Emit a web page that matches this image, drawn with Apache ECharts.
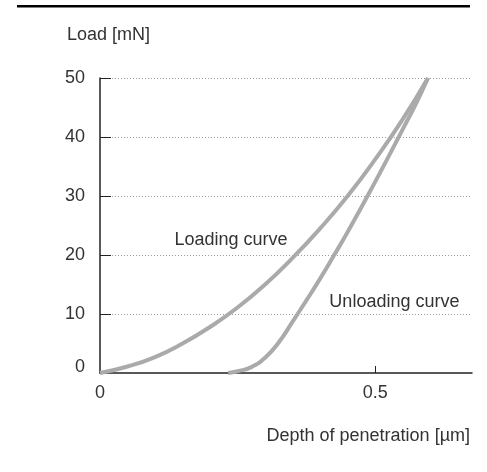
<!DOCTYPE html>
<html>
<head>
<meta charset="utf-8">
<script src="https://cdn.jsdelivr.net/npm/echarts@6/dist/echarts.min.js"></script>
<style>
html, body { margin: 0; padding: 0; background: #fff; }
#chart { width: 487px; height: 472px; }
</style>
</head>
<body>
<div id="chart"></div>
<script>
// values
var loadingDepth = [0, 0.05, 0.1, 0.15, 0.2, 0.25, 0.3, 0.35, 0.4, 0.45, 0.5, 0.55, 0.596];
var loadingLoad = [0, 1.1, 2.7, 5.0, 7.8, 11.1, 15.0, 19.5, 24.5, 30.0, 36.2, 43.0, 50];
var unloadingDepth = [0.233, 0.25, 0.275, 0.3, 0.325, 0.35, 0.375, 0.4, 0.425, 0.45, 0.475, 0.5, 0.525, 0.55, 0.575, 0.596];
var unloadingLoad = [0, 0.3, 1.0, 2.6, 5.2, 8.7, 12.3, 16.0, 19.9, 23.9, 28.1, 32.4, 36.8, 41.3, 45.8, 50];
var xTicks = [0, 0.5];
var yTicks = [0, 10, 20, 30, 40, 50];
var curveNames = ['Loading curve', 'Unloading curve'];
var curveLabelAt = [[0.238, 22.5], [0.535, 12.0]];

var font = "'Liberation Sans', Arial, Helvetica, sans-serif";
var textColor = '#333';

var pairs = function (xs, ys) {
    var out = [];
    for (var i = 0; i < xs.length; i++) {
        out.push([xs[i], ys[i]]);
    }
    return out;
};

var curve = function (name, xs, ys, at) {
    return {
        name: name,
        type: 'line',
        smooth: true,
        symbol: 'none',
        data: pairs(xs, ys),
        lineStyle: { color: '#aaaaaa', width: 4 },
        markPoint: {
            symbol: 'circle',
            symbolSize: 0,
            data: [{ coord: at }],
            label: {
                show: true,
                position: 'inside',
                formatter: name,
                color: textColor,
                fontFamily: font,
                fontSize: 18
            }
        },
        animation: false
    };
};

var chart = echarts.init(document.getElementById('chart'));
chart.setOption({
    backgroundColor: '#fff',
    animation: false,
    grid: { left: 100, top: 78, right: 15, bottom: 99 },
    xAxis: {
        type: 'value',
        min: 0,
        max: 0.676,
        interval: 0.5,
        axisLine: { lineStyle: { color: '#222', width: 1.5 } },
        axisTick: { show: true, inside: true, length: 7, customValues: [0.5], lineStyle: { color: '#222' } },
        axisLabel: { customValues: xTicks, margin: 11, color: textColor, fontFamily: font, fontSize: 18 },
        splitLine: { show: false }
    },
    yAxis: {
        type: 'value',
        min: 0,
        max: 50,
        interval: 10,
        axisLine: { show: true, lineStyle: { color: '#222', width: 1.5 } },
        axisTick: { show: true, inside: true, length: 11, customValues: yTicks.slice(1), lineStyle: { color: '#222' } },
        axisLabel: {
            customValues: yTicks,
            margin: 15,
            color: textColor,
            fontFamily: font,
            fontSize: 18,
            // the zero label sits a little above the x axis
            formatter: function (v) { return v === 0 ? '{z|0}' : String(v); },
            rich: { z: { fontFamily: font, fontSize: 18, color: textColor, padding: [0, 0, 12, 0] } }
        },
        splitLine: { show: true, lineStyle: { color: '#999', type: [1, 2], width: 1 } }
    },
    graphic: [
        { type: 'rect', shape: { x: 17, y: 5, width: 453, height: 2.5 }, style: { fill: '#000' } },
        { type: 'text', left: 67, top: 26, style: { text: 'Load [mN]', fill: textColor, font: '18px ' + font } },
        { type: 'text', right: 17, top: 427, style: { text: 'Depth of penetration [\u00b5m]', fill: textColor, font: '18px ' + font } }
    ],
    series: [
        curve(curveNames[0], loadingDepth, loadingLoad, curveLabelAt[0]),
        curve(curveNames[1], unloadingDepth, unloadingLoad, curveLabelAt[1])
    ]
});
</script>
</body>
</html>
